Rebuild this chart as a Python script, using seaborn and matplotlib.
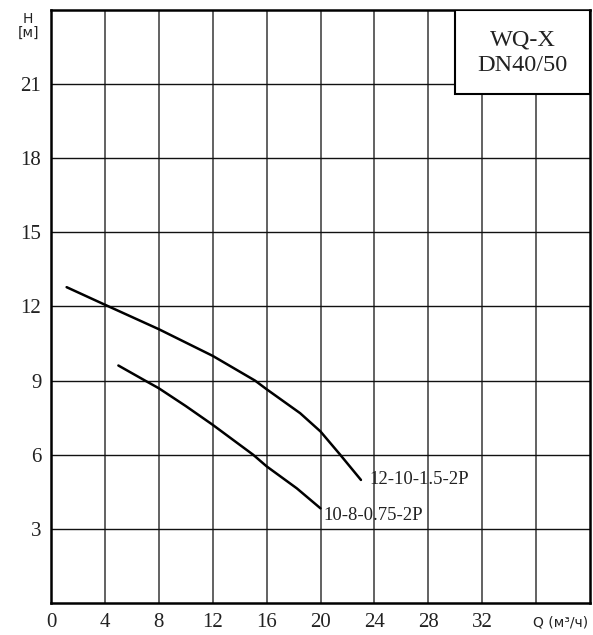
import matplotlib
matplotlib.use("Agg")
import matplotlib.pyplot as plt
import seaborn as sns
import pandas as pd

sns.set_style("white")
plt.rcParams['font.family'] = ['Liberation Serif', 'DejaVu Serif']

# кривые напор-расход
q_a = [1.16, 4, 8, 12, 15.14, 16, 18.49, 20, 21.46, 23]
h_a = [12.78, 12.07, 11.08, 10.0, 9.0, 8.65, 7.68, 6.94, 6.0, 4.98]
q_b = [5, 6.98, 8, 10, 12, 15.0, 16, 18.24, 20]
h_b = [9.61, 9.0, 8.69, 7.97, 7.21, 6.0, 5.53, 4.64, 3.83]
names = ["12-10-1.5-2P", "10-8-0.75-2P"]
x_ticks = [0, 4, 8, 12, 16, 20, 24, 28, 32]
y_ticks = [3, 6, 9, 12, 15, 18, 21]

df = pd.concat([
    pd.DataFrame({"Q": q_a, "H": h_a, "model": names[0]}),
    pd.DataFrame({"Q": q_b, "H": h_b, "model": names[1]}),
])

fig = plt.figure(figsize=(5.93, 6.35), dpi=100)
ax = fig.add_axes([0.086, 0.0504, 0.909, 0.934])

for x in range(4, 40, 4):
    ax.axvline(x, color="#555555", lw=1.3, zorder=1)
for y in range(3, 24, 3):
    ax.axhline(y, color="#111111", lw=1.0, zorder=1)

sns.lineplot(data=df, x="Q", y="H", units="model", estimator=None, sort=False,
             color="black", lw=1.8, ax=ax, zorder=3)

ax.text(23.6, 5.0, names[0], fontsize=13.5, va="center", ha="left", color="#222222", zorder=4)
ax.text(20.25, 3.55, names[1], fontsize=13.5, va="center", ha="left", color="#222222", zorder=4)

# табличка с названием серии
ax.add_patch(plt.Rectangle((30, 20.6), 10, 3.4, facecolor="white", edgecolor="black",
                           lw=1.5, zorder=5))
ax.text(35, 22.27, "WQ-X\nDN40/50", fontsize=17.5, ha="center", va="center",
        color="#222222", linespacing=1.25, zorder=6)

ax.set_xlim(0, 40)
ax.set_ylim(0, 24)
ax.set_xticks(x_ticks)
ax.set_yticks(y_ticks)
ax.tick_params(length=0, labelsize=15, colors="#222222", pad=7)
ax.set_xlabel("")
ax.set_ylabel("")
for s in ax.spines.values():
    s.set_color("black")
    s.set_linewidth(1.8)

ax.text(37.8, -0.8, "Q (м³/ч)", fontsize=10, ha="center", va="center",
        family=["DejaVu Sans"], color="#222222", clip_on=False)
ax.text(-1.7, 23.35, "Н\n[м]", fontsize=10, ha="center", va="center",
        family=["DejaVu Sans"], color="#222222", linespacing=1.05, clip_on=False)

fig.savefig("out.png", dpi=100, facecolor="white")
